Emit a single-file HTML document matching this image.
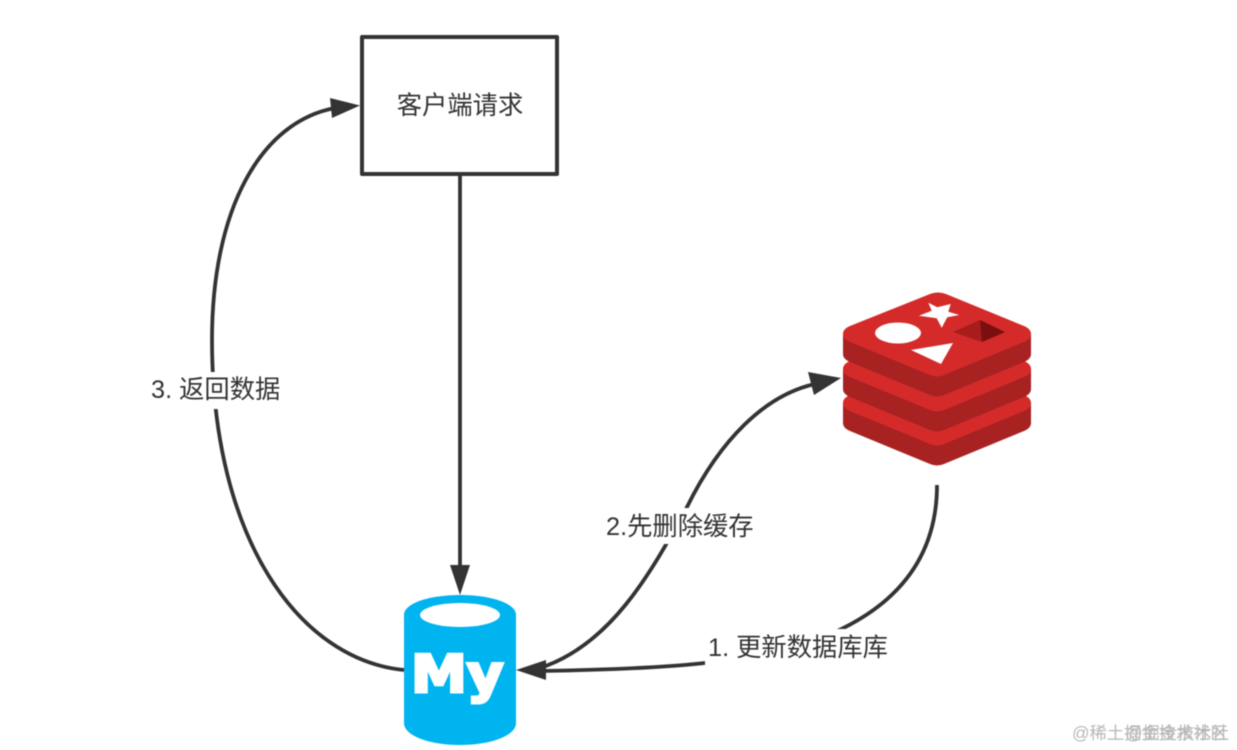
<!DOCTYPE html>
<html><head><meta charset="utf-8">
<style>
html,body{margin:0;padding:0;background:#fff;width:1237px;height:750px;overflow:hidden}
svg{display:block;filter:blur(.4px)}
.l{font-family:"Liberation Sans","Noto Sans CJK SC",sans-serif;font-size:25.300px;fill:#333}
</style></head>
<body>
<svg width="1237" height="750" viewBox="0 0 1237 750" xmlns="http://www.w3.org/2000/svg">
<defs>
<g id="layer">
<path d="M843 334 L843 354 Q843 359 850 362 L930 395 Q937 398 944 395 L1024 362 Q1031 359 1031 354 L1031 334 Z" fill="#a82222"/>
<path d="M843 334 Q843 329 850 326 L930 294 Q938 291 946 294 L1024 326 Q1031 329 1031 334 Q1031 339 1024 342 L944 375 Q937 378 930 375 L850 342 Q843 339 843 334 Z" fill="#d52a2a"/>
</g>
</defs>
<rect width="1237" height="750" fill="#fff"/>
<!-- connectors -->
<g fill="none" stroke="#333" stroke-width="3.800">
<path d="M404 670 C300 660 212 540 212 340 C212 210 260 122 335 108"/>
<path d="M460 174 L460 570"/>
<path d="M540 668 C610 645 650 575 687 507 C720 440 765 395 815 384"/>
<path d="M937 485 C937 550 905 600 835 632 C790 650 740 660 705 663 C660 668 600 670 540 671"/>
</g>
<g fill="#333">
<path d="M360 105.500 L330 98 L332 118 Z"/>
<path d="M460 595 L450 565 L470 565 Z"/>
<path d="M841 378 L808 372 L814 395 Z"/>
<path d="M516 670 L546 660 L546 680 Z"/>
</g>
<!-- box -->
<rect x="362" y="37" width="195" height="137" fill="#fff" stroke="#333" stroke-width="4" stroke-linejoin="round"/>
<text class="l" x="460" y="114" text-anchor="middle">客户端请求</text>
<!-- labels -->
<rect x="148" y="372" width="135" height="37" fill="#fff"/>
<text class="l" x="151" y="398">3. 返回数据</text>
<rect x="604" y="508" width="152" height="36" fill="#fff"/>
<text class="l" x="606" y="535">2.先删除缓存</text>
<rect x="705" y="629" width="184" height="37" fill="#fff"/>
<text class="l" x="708" y="656">1. 更新数据库库</text>
<!-- redis -->
<use href="#layer" y="69"/>
<use href="#layer" y="35"/>
<use href="#layer"/>
<ellipse cx="898" cy="333" rx="23" ry="10.500" fill="#fff"/>
<path d="M928.300 302.700 L937.300 307.300 L950.700 304 L948.300 311.700 L959.300 315 L947.300 317.300 L941.700 327.700 L936.700 318.300 L919 315.700 L931.700 310.700 Z" fill="#fff"/>
<path d="M911 350 L953 343 L941 364 Z" fill="#fff"/>
<path d="M953 332 L980 320 L1005 332 L982 342 Z" fill="#a81c1c"/>
<path d="M980 320 L1005 332 L982 342 Z" fill="#7a0f0f"/>
<!-- mysql -->
<path d="M404 615 C404 603 430 595 460 595 C490 595 516 603 516 615 L516 723 C516 736 490 745 460 745 C430 745 404 736 404 723 Z" fill="#00b4f0"/>
<ellipse cx="460" cy="615" rx="40" ry="12" fill="#fff"/>
<text transform="translate(411 692) scale(1.08 1)" font-family="'DejaVu Sans',sans-serif" font-weight="bold" font-size="52" fill="#fff" stroke="#fff" stroke-width="3">My</text>
<!-- watermark -->
<g font-family="'Liberation Sans','Noto Sans CJK SC',sans-serif" font-size="17.300" fill="#a0a0a0" opacity=".75">
<text x="1072" y="739">@稀土掘金技术社区</text>
<text x="1125" y="739">@掘金技术社</text>
</g>
</svg>
</body></html>
